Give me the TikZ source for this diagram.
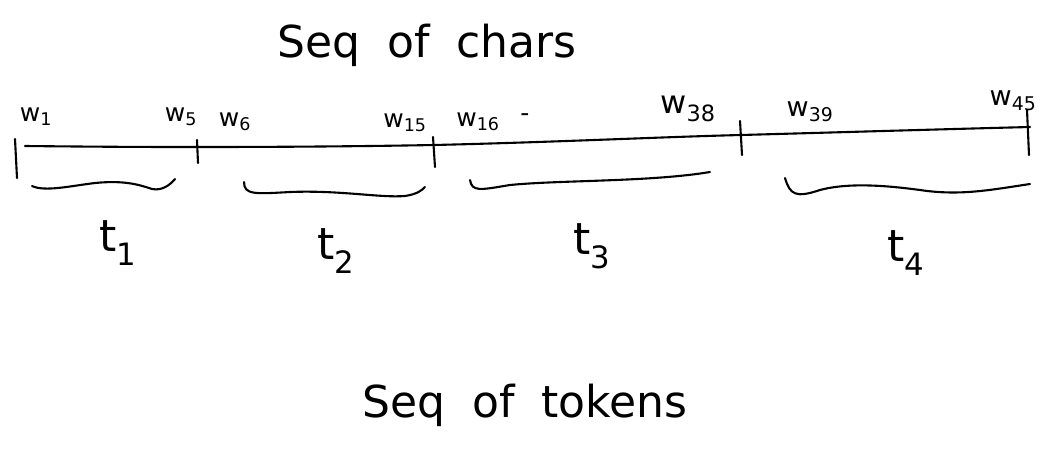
\documentclass[tikz,border=0pt]{standalone}
\usepackage{fontspec}
\setmainfont{DejaVu Sans}
\begin{document}
\begin{tikzpicture}[x=1pt,y=-1pt,
  pen/.style={line width=2.1pt,line cap=round,line join=round,black},
  big/.style={font=\fontsize{44}{48}\selectfont,inner sep=0pt},
  wlab/.style={font=\fontsize{25}{27}\selectfont,inner sep=0pt},
  tlab/.style={font=\fontsize{44}{48}\selectfont,inner sep=0pt}]
\useasboundingbox (0,0) rectangle (1060,464);
% titles
\node[big] (chars) at (427,45) {Seq\hspace{0.6em}of\hspace{0.6em}chars};
\node[big] (tokens) at (525,405) {Seq\hspace{0.6em}of\hspace{0.6em}tokens};
% main line
\coordinate (L0) at (25,146);
\coordinate (L1) at (198,147);
\coordinate (L2) at (434,145);
\coordinate (L3) at (741,135);
\coordinate (L4) at (1030,127);
\draw[pen] (L0) .. controls (120,147) and (160,147) .. (L1)
  .. controls (300,147) and (380,146) .. (L2)
  .. controls (560,142) and (660,137) .. (L3)
  .. controls (850,132) and (950,129) .. (L4);
% ticks
\draw[pen] (15,139) -- (17,178);
\draw[pen] (197,140) -- (198,163);
\draw[pen] (433,137) -- (435,167);
\draw[pen] (740,121) -- (742,155);
\draw[pen] (1027,110) -- (1029,155);
% word labels
\node[wlab] (w1) at (36,117) {w\textsubscript{1}};
\node[wlab] (w5) at (181,117) {w\textsubscript{5}};
\node[wlab] (w6) at (235,122) {w\textsubscript{6}};
\node[wlab] (w15) at (405,123) {w\textsubscript{15}};
\node[wlab] (w16) at (478,122) {w\textsubscript{16}};
\node[wlab] (dash) at (525,118) {-};
\node[wlab,font=\fontsize{32}{34}\selectfont] (w38) at (688,109) {w\textsubscript{38}};
\node[wlab,font=\fontsize{27}{29}\selectfont] (w39) at (810,112) {w\textsubscript{39}};
\node[wlab,font=\fontsize{27}{29}\selectfont] (w45) at (1013,101) {w\textsubscript{45}};
% braces
\draw[pen] (32,186) .. controls (45,192) and (70,186) .. (95,183)
  .. controls (125,180) and (140,185) .. (152,189)
  .. controls (162,191) and (170,185) .. (175,179);
\draw[pen] (244,182) .. controls (244,195) and (255,194) .. (290,192)
  .. controls (340,190) and (380,198) .. (405,196)
  .. controls (418,194) and (422,190) .. (425,187);
\draw[pen] (470,180) .. controls (472,192) and (480,190) .. (510,185)
  .. controls (560,180) and (650,182) .. (710,172);
\draw[pen] (785,178) .. controls (790,195) and (796,198) .. (820,190)
  .. controls (850,182) and (890,186) .. (920,190)
  .. controls (960,196) and (990,190) .. (1030,184);
% token labels
\node[tlab] (t1) at (118,243) {t\textsubscript{1}};
\node[tlab] (t2) at (336,251) {t\textsubscript{2}};
\node[tlab] (t3) at (592,246) {t\textsubscript{3}};
\node[tlab] (t4) at (906,253) {t\textsubscript{4}};
\end{tikzpicture}
\end{document}
